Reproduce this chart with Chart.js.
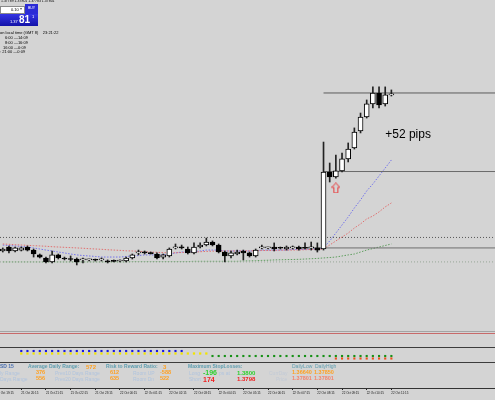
<!DOCTYPE html>
<html>
<head>
<meta charset="utf-8">
<script src="https://cdn.jsdelivr.net/npm/chart.js@4.4.0/dist/chart.umd.min.js"></script>
<style>
  body { margin: 0; background: #d4d4d4; font-family: "Liberation Sans", Arial, sans-serif; }
  #wrap { position: relative; width: 495px; height: 400px; overflow: hidden; background: #d4d4d4; }
  #c { position: absolute; left: 0; top: 0; }
  .t { position: absolute; white-space: nowrap; line-height: 1; }
  .b { font-weight: bold; }
  .rule { position: absolute; left: 0; width: 495px; height: 1px; }
  .lab { color: #5f9eb0; font-size: 5px; font-weight: bold; }
  .dim { color: #b0c4de; font-size: 5px; }
  .org { color: #ffa020; font-size: 5.5px; font-weight: bold; }
</style>
</head>
<body>
<div id="wrap">
  <canvas id="c" width="495" height="400"></canvas>

  <!-- one click trading box, top left -->
  <div class="t" style="left:1px;top:0px;font-size:3.5px;color:#000">1.37789 1.37801 1.37783 1.37801</div>
  <div style="position:absolute;left:0;top:6px;width:25px;height:8px;background:#fff;border:1px solid #8a8a8a;box-sizing:border-box;"></div>
  <div class="t" style="left:11px;top:8px;font-size:4px;color:#000">0.10</div>
  <div class="t" style="left:20px;top:8px;font-size:3.5px;color:#555">&#9662;</div>
  <div style="position:absolute;left:25px;top:4px;width:13px;height:10px;background:#2b2bd6;"></div>
  <div class="t" style="left:28px;top:7px;font-size:3.5px;color:#fff">BUY</div>
  <div style="position:absolute;left:0;top:14px;width:38px;height:12px;background:linear-gradient(#3434e4,#1212a8);"></div>
  <div class="t" style="left:10px;top:20px;font-size:4px;color:#fff">1.37</div>
  <div class="t b" style="left:19px;top:15px;font-size:10px;color:#fff">81</div>
  <div class="t" style="left:32px;top:15px;font-size:4px;color:#fff">1</div>

  <div class="t" style="left:0px;top:31px;font-size:4px;color:#000">on local time (GMT 8)&nbsp;&nbsp;&nbsp;&nbsp;23:21:22</div>
  <div class="t" style="left:5px;top:36px;font-size:4px;color:#000">6:00 &mdash;14:09</div>
  <div class="t" style="left:5px;top:41px;font-size:4px;color:#000">8:00 &mdash;16:09</div>
  <div class="t" style="left:3px;top:45.5px;font-size:4px;color:#000">16:00 &mdash;0:09</div>
  <div class="t" style="left:0px;top:50px;font-size:4px;color:#000">: 21:00 &mdash;0:09</div>

  <!-- sub window separators -->
  <div class="rule" style="top:331px;background:#a4a4a4"></div>
  <div class="rule" style="top:333px;background:#c86a6a"></div>
  <div class="rule" style="top:347px;background:#3c3c3c"></div>
  <div class="rule" style="top:362px;background:#3c3c3c"></div>

  <!-- info panel -->
  <div class="t b" style="left:0px;top:364px;font-size:5px;color:#4a6fb0">SD 15</div>
  <div class="t lab" style="left:28px;top:364px">Average Daily Range:</div>
  <div class="t org" style="left:86px;top:363.5px;font-size:6px">572</div>
  <div class="t lab" style="left:106px;top:364px">Risk to Reward Ratio:</div>
  <div class="t org" style="left:163px;top:363.5px;font-size:6px">3</div>
  <div class="t lab" style="left:188px;top:364px">Maximum StopLosses:</div>
  <div class="t lab" style="left:292px;top:364px;font-weight:normal">DailyLow</div>
  <div class="t lab" style="left:315px;top:364px;font-weight:normal">DailyHigh</div>

  <div class="t dim" style="left:0px;top:370.5px">ly Range</div>
  <div class="t org" style="left:36px;top:370px">376</div>
  <div class="t dim" style="left:55px;top:370.5px">Prev10 Days Range</div>
  <div class="t org" style="left:110px;top:370px">612</div>
  <div class="t dim" style="left:133px;top:370.5px">Room UP</div>
  <div class="t org" style="left:160px;top:370px">-588</div>
  <div class="t dim" style="left:189px;top:370.5px">Long</div>
  <div class="t b" style="left:203px;top:369px;font-size:7px;color:#2ed02e">-196</div>
  <div class="t dim" style="left:219px;top:370.5px">ps at</div>
  <div class="t b" style="left:237px;top:370px;font-size:6px;color:#2ed02e">1.3800</div>
  <div class="t dim" style="left:269px;top:370.5px;color:#c2cad6">CurrDay</div>
  <div class="t org" style="left:292px;top:370px">1.36640</div>
  <div class="t org" style="left:314px;top:370px">1.37850</div>

  <div class="t dim" style="left:0px;top:376.5px">Days Range</div>
  <div class="t org" style="left:36px;top:376px">556</div>
  <div class="t dim" style="left:55px;top:376.5px">Prev20 Days Range</div>
  <div class="t org" style="left:110px;top:376px">635</div>
  <div class="t dim" style="left:133px;top:376.5px">Room Dn</div>
  <div class="t org" style="left:160px;top:376px">522</div>
  <div class="t dim" style="left:189px;top:376.5px">Short</div>
  <div class="t b" style="left:203px;top:375.5px;font-size:7px;color:#f01e1e">174</div>
  <div class="t b" style="left:237px;top:376px;font-size:6px;color:#f01e1e">1.3798</div>
  <div class="t dim" style="left:276px;top:376.5px;color:#c2cad6">Price</div>
  <div class="t org" style="left:292px;top:376px;color:#f4846c">1.37801</div>
  <div class="t org" style="left:314px;top:376px;color:#f4846c">1.37801</div>
</div>

<script>
// 15 minute bars from 21 Oct 19:30, quotes
const open = [
  1.36810, 1.36836, 1.36810, 1.36816, 1.36836, 1.36816, 1.36784, 1.36764, 1.36738, 1.36784,
  1.36764, 1.36757, 1.36757, 1.36751, 1.36751, 1.36751, 1.36751, 1.36744, 1.36744, 1.36744,
  1.36744, 1.36764, 1.36797, 1.36803, 1.36797, 1.36790, 1.36770, 1.36777, 1.36830, 1.36836,
  1.36823, 1.36797, 1.36836, 1.36849, 1.36869, 1.36849, 1.36803, 1.36777, 1.36790, 1.36810,
  1.36797, 1.36777, 1.36830, 1.36830, 1.36836, 1.36830, 1.36823, 1.36830, 1.36836, 1.36830,
  1.36830, 1.36830, 1.36823, 1.37330, 1.37297, 1.37337, 1.37416, 1.37488, 1.37600, 1.37692,
  1.37778, 1.37850, 1.37778, 1.37837
];
const high = [
  1.36830, 1.36843, 1.36836, 1.36836, 1.36843, 1.36823, 1.36790, 1.36770, 1.36810, 1.36790,
  1.36770, 1.36777, 1.36764, 1.36764, 1.36757, 1.36757, 1.36764, 1.36751, 1.36751, 1.36751,
  1.36770, 1.36790, 1.36816, 1.36810, 1.36803, 1.36797, 1.36790, 1.36830, 1.36856, 1.36849,
  1.36836, 1.36863, 1.36863, 1.36895, 1.36876, 1.36856, 1.36810, 1.36810, 1.36816, 1.36816,
  1.36803, 1.36823, 1.36849, 1.36836, 1.36863, 1.36836, 1.36843, 1.36843, 1.36843, 1.36863,
  1.36869, 1.36863, 1.37527, 1.37389, 1.37442, 1.37455, 1.37521, 1.37620, 1.37718, 1.37804,
  1.37890, 1.37890, 1.37890, 1.37870
];
const low = [
  1.36803, 1.36797, 1.36803, 1.36810, 1.36810, 1.36770, 1.36764, 1.36731, 1.36731, 1.36757,
  1.36751, 1.36744, 1.36718, 1.36731, 1.36744, 1.36744, 1.36744, 1.36731, 1.36738, 1.36738,
  1.36738, 1.36757, 1.36784, 1.36790, 1.36790, 1.36757, 1.36757, 1.36770, 1.36823, 1.36823,
  1.36790, 1.36790, 1.36830, 1.36843, 1.36843, 1.36797, 1.36738, 1.36764, 1.36784, 1.36751,
  1.36770, 1.36770, 1.36823, 1.36823, 1.36810, 1.36823, 1.36816, 1.36823, 1.36816, 1.36823,
  1.36816, 1.36803, 1.36816, 1.37264, 1.37290, 1.37330, 1.37396, 1.37481, 1.37587, 1.37685,
  1.37751, 1.37751, 1.37764, 1.37830
];
const close = [
  1.36823, 1.36810, 1.36830, 1.36830, 1.36816, 1.36790, 1.36770, 1.36738, 1.36784, 1.36764,
  1.36757, 1.36754, 1.36738, 1.36751, 1.36751, 1.36749, 1.36757, 1.36738, 1.36742, 1.36744,
  1.36764, 1.36784, 1.36803, 1.36797, 1.36792, 1.36764, 1.36784, 1.36823, 1.36836, 1.36830,
  1.36797, 1.36836, 1.36849, 1.36869, 1.36849, 1.36803, 1.36777, 1.36797, 1.36803, 1.36797,
  1.36777, 1.36816, 1.36836, 1.36830, 1.36823, 1.36828, 1.36836, 1.36836, 1.36823, 1.36828,
  1.36836, 1.36816, 1.37330, 1.37297, 1.37337, 1.37416, 1.37481, 1.37593, 1.37692, 1.37778,
  1.37850, 1.37771, 1.37837, 1.37843
];

// moving averages (blue = fast, red = mid, green = slow)
const maBlue = [
  1.36849, 1.36846, 1.36843, 1.36840, 1.36836, 1.36830, 1.36823, 1.36816, 1.36810, 1.36803,
  1.36797, 1.36790, 1.36784, 1.36780, 1.36777, 1.36774, 1.36770, 1.36770, 1.36770, 1.36770,
  1.36774, 1.36777, 1.36780, 1.36784, 1.36784, 1.36784, 1.36784, 1.36790, 1.36797, 1.36803,
  1.36803, 1.36807, 1.36810, 1.36816, 1.36816, 1.36816, 1.36810, 1.36810, 1.36810, 1.36810,
  1.36810, 1.36810, 1.36816, 1.36816, 1.36816, 1.36816, 1.36816, 1.36820, 1.36820, 1.36820,
  1.36823, 1.36823, 1.36830, 1.36876, 1.36928, 1.36981, 1.37034, 1.37093, 1.37146, 1.37205,
  1.37251, 1.37304, 1.37356, 1.37409
];
const maRed = [
  1.36856, 1.36854, 1.36851, 1.36849, 1.36847, 1.36845, 1.36843, 1.36841, 1.36838, 1.36836,
  1.36834, 1.36832, 1.36830, 1.36828, 1.36825, 1.36823, 1.36821, 1.36818, 1.36816, 1.36814,
  1.36811, 1.36810, 1.36808, 1.36805, 1.36803, 1.36801, 1.36799, 1.36797, 1.36798, 1.36800,
  1.36802, 1.36803, 1.36805, 1.36807, 1.36809, 1.36810, 1.36810, 1.36810, 1.36810, 1.36811,
  1.36811, 1.36811, 1.36813, 1.36813, 1.36814, 1.36815, 1.36816, 1.36816, 1.36817, 1.36818,
  1.36820, 1.36820, 1.36823, 1.36849, 1.36876, 1.36902, 1.36928, 1.36961, 1.36988, 1.37021,
  1.37040, 1.37067, 1.37100, 1.37126
];
const maGreen = [
  1.36738, 1.36738, 1.36738, 1.36738, 1.36738, 1.36738, 1.36738, 1.36738, 1.36738, 1.36738,
  1.36738, 1.36738, 1.36738, 1.36738, 1.36738, 1.36738, 1.36738, 1.36738, 1.36738, 1.36738,
  1.36738, 1.36740, 1.36740, 1.36740, 1.36740, 1.36740, 1.36740, 1.36740, 1.36740, 1.36740,
  1.36740, 1.36742, 1.36742, 1.36742, 1.36742, 1.36742, 1.36742, 1.36742, 1.36742, 1.36744,
  1.36745, 1.36746, 1.36748, 1.36749, 1.36751, 1.36752, 1.36753, 1.36754, 1.36755, 1.36757,
  1.36759, 1.36761, 1.36764, 1.36767, 1.36770, 1.36777, 1.36784, 1.36790, 1.36803, 1.36816,
  1.36826, 1.36836, 1.36846, 1.36856
];

// horizontal levels: price and the bar they start from
const levelPrice = [1.37850, 1.37333, 1.36830, 1.36899, 1.36738];
const levelFrom = [52, 52, 48, -0.45, -0.45];

// trend dots of the sub window (1 = dot shown on that bar)
const blueDots = [
  0, 0, 0, 1, 1, 1, 1, 1, 1, 1,  1, 1, 1, 1, 1, 1, 1, 1, 1, 1,
  1, 1, 1, 1, 1, 1, 1, 1, 1, 1,  0, 0, 0, 0, 0, 0, 0, 0, 0, 0,
  0, 0, 0, 0, 0, 0, 0, 0, 0, 0,  0, 0, 0, 0, 0, 0, 0, 0, 0, 0,
  0, 0, 0, 0
];
const yellowDots = [
  0, 0, 0, 1, 1, 1, 1, 1, 1, 1,  1, 1, 1, 1, 1, 1, 1, 1, 1, 1,
  1, 1, 1, 1, 1, 1, 1, 1, 1, 1,  1, 1, 1, 1, 0, 0, 0, 0, 0, 0,
  0, 0, 0, 0, 0, 0, 0, 0, 0, 0,  0, 0, 0, 0, 0, 0, 0, 0, 0, 0,
  0, 0, 0, 0
];
const greenDots = [
  0, 0, 0, 0, 0, 0, 0, 0, 0, 0,  0, 0, 0, 0, 0, 0, 0, 0, 0, 0,
  0, 0, 0, 0, 0, 0, 0, 0, 0, 0,  0, 0, 0, 0, 1, 1, 1, 1, 1, 1,
  1, 1, 1, 1, 1, 1, 1, 1, 1, 1,  1, 1, 1, 1, 1, 1, 1, 1, 1, 1,
  1, 1, 1, 1
];
const orangeDots = [
  0, 0, 0, 0, 0, 0, 0, 0, 0, 0,  0, 0, 0, 0, 0, 0, 0, 0, 0, 0,
  0, 0, 0, 0, 0, 0, 0, 0, 0, 0,  0, 0, 0, 0, 0, 0, 0, 0, 0, 0,
  0, 0, 0, 0, 0, 0, 0, 0, 0, 0,  0, 0, 0, 0, 1, 1, 1, 1, 1, 1,
  1, 1, 1, 1
];

// buy signal arrow and the pips note
const arrowBar = 54;
const arrowPrice = 1.37225;
const pipsText = "+52 pips";
const pipsBar = 62;
const pipsPrice = 1.37574;

// time axis: bar index of each label and its text
const tickBars = [-1, 3, 7, 11, 15, 19, 23, 27, 31, 35, 39, 43, 47, 51, 55, 59, 63];
const tickLabels = [
  "21 Oct 19:15", "21 Oct 20:15", "21 Oct 21:15", "21 Oct 22:15", "21 Oct 23:15",
  "22 Oct 00:15", "22 Oct 01:15", "22 Oct 02:15", "22 Oct 03:15",
  "22 Oct 04:15", "22 Oct 05:15", "22 Oct 06:15", "22 Oct 07:15",
  "22 Oct 08:15", "22 Oct 09:15", "22 Oct 10:15", "22 Oct 11:15"
];

const xMin = -0.45;
const xMax = 79.8;

const xy = (arr) => arr.map((v, i) => ({ x: i, y: v }));
const levelData = (k) => [{ x: levelFrom[k], y: levelPrice[k] }, { x: xMax, y: levelPrice[k] }];
const dots = (flags, lvl) => flags.map((f, i) => ({ x: i, y: f ? lvl : null }));

// hollow red arrow used as a point style
const arrow = document.createElement("canvas");
arrow.width = 9;
arrow.height = 11;
(() => {
  const g = arrow.getContext("2d");
  g.strokeStyle = "#e8393a";
  g.lineWidth = 1;
  g.beginPath();
  g.moveTo(4.5, 0.5);
  g.lineTo(8.5, 5);
  g.lineTo(6.5, 5);
  g.lineTo(6.5, 10.5);
  g.lineTo(2.5, 10.5);
  g.lineTo(2.5, 5);
  g.lineTo(0.5, 5);
  g.closePath();
  g.stroke();
})();

const noteLabel = {
  id: "noteLabel",
  afterDatasetsDraw(chart) {
    const { ctx, scales } = chart;
    ctx.save();
    ctx.font = '12px "Liberation Sans", Arial, sans-serif';
    ctx.fillStyle = "#000";
    ctx.textBaseline = "middle";
    ctx.fillText(pipsText, scales.x.getPixelForValue(pipsBar), scales.y.getPixelForValue(pipsPrice));
    ctx.restore();
  }
};

const lineSet = (data, color, dash, order) => ({
  type: "line",
  data: data,
  borderColor: color,
  borderWidth: 1,
  borderDash: dash,
  pointRadius: 0,
  pointHoverRadius: 0,
  order: order
});

const dotSet = (data, color, r) => ({
  type: "line",
  yAxisID: "yInd",
  data: data,
  showLine: false,
  pointStyle: "rect",
  pointRadius: r,
  pointHoverRadius: r,
  pointBorderWidth: 0,
  pointBackgroundColor: color,
  order: 0
});

new Chart(document.getElementById("c"), {
  type: "bar",
  data: {
    datasets: [
      lineSet(xy(maGreen), "#5e9e5e", [1.5, 1.5], 6),
      lineSet(xy(maRed), "#e07070", [1.5, 1.5], 6),
      lineSet(xy(maBlue), "#7272ea", [1.5, 1.5], 6),
      lineSet(levelData(0), "#5c5c5c", [], 5),
      lineSet(levelData(1), "#6a6a6a", [], 5),
      lineSet(levelData(2), "#6e6e6e", [], 5),
      lineSet(levelData(3), "#555555", [1, 2], 5),
      lineSet(levelData(4), "#98a898", [1, 2], 5),
      {
        label: "wick",
        data: low.map((l, i) => ({ x: i, y: [l, high[i]] })),
        backgroundColor: "#222",
        borderWidth: 0,
        barThickness: 1,
        grouped: false,
        order: 2
      },
      {
        label: "body",
        data: open.map((o, i) => ({ x: i, y: [o, close[i]] })),
        backgroundColor: open.map((o, i) => (close[i] >= o ? "#ffffff" : "#000000")),
        borderColor: "#000",
        borderWidth: 1,
        borderSkipped: false,
        barThickness: 5,
        minBarLength: 1,
        grouped: false,
        order: 1
      },
      {
        type: "line",
        data: [{ x: arrowBar, y: arrowPrice }],
        showLine: false,
        pointStyle: arrow,
        pointRadius: 5,
        order: 0
      },
      dotSet(dots(blueDots, 2), "#1818e0", 1.5),
      dotSet(dots(yellowDots, 1), "#f2e400", 1.6),
      dotSet(dots(greenDots, 0), "#169016", 1.5),
      dotSet(dots(orangeDots, -1), "#f0501c", 1.5)
    ]
  },
  options: {
    responsive: false,
    animation: false,
    layout: { padding: 0, autoPadding: false },
    plugins: { legend: { display: false }, tooltip: { enabled: false } },
    scales: {
      x: {
        type: "linear",
        min: xMin,
        max: xMax,
        offset: false,
        afterBuildTicks: (axis) => { axis.ticks = tickBars.map((v) => ({ value: v })); },
        afterFit: (axis) => { axis.height = 12; axis.paddingLeft = 0; axis.paddingRight = 0; },
        border: { display: true, color: "#333", width: 1 },
        grid: { offset: false, drawOnChartArea: false, tickLength: 2, color: "#222" },
        ticks: {
          autoSkip: false,
          maxRotation: 0,
          align: "start",
          padding: 1,
          color: "#111",
          font: { size: 3, family: "Liberation Sans" },
          callback: (v, i) => tickLabels[i]
        }
      },
      y: { display: false, min: 1.35908, max: 1.38462 },
      yInd: { display: false, min: -12.8, max: 142.4 }
    }
  },
  plugins: [noteLabel]
});
</script>
</body>
</html>
